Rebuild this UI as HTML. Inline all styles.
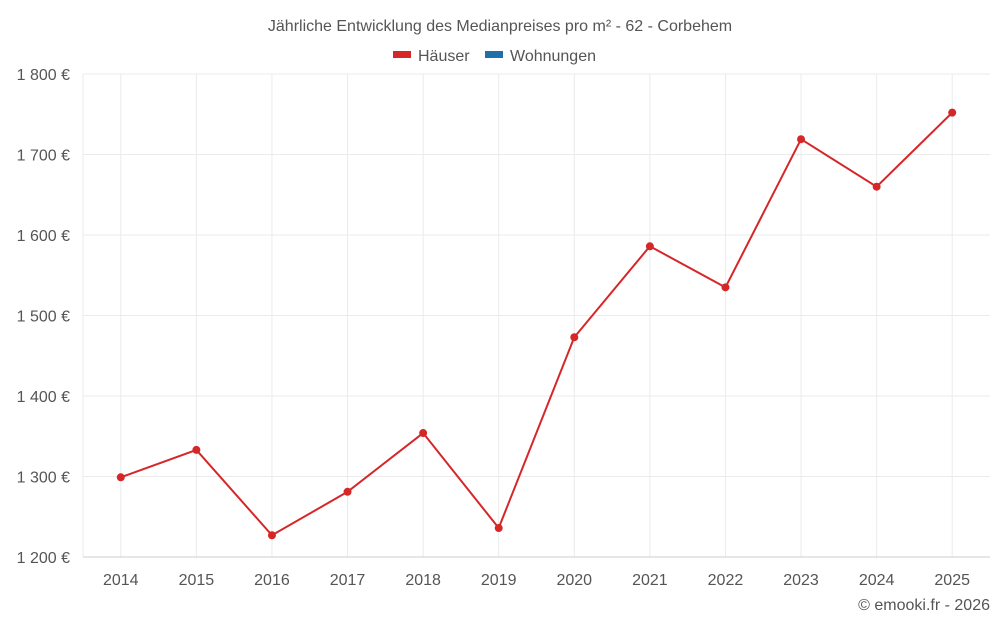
<!DOCTYPE html>
<html><head><meta charset="utf-8"><style>
body{margin:0;background:#fff;font-family:"Liberation Sans",sans-serif;}
svg text{font-family:"Liberation Sans",sans-serif;}
</style></head><body>
<svg id="chart" width="1000" height="625">
<text x="500" y="31" text-anchor="middle" font-size="16" fill="#555">Jährliche Entwicklung des Medianpreises pro m² - 62 - Corbehem</text>
<g>
<g><rect x="393" y="51" width="18" height="7" fill="#d62728"/><text x="418" y="61" font-size="16" fill="#555">Häuser</text></g>
<g><rect x="485" y="51" width="18" height="7" fill="#1f6fa8"/><text x="510" y="61" font-size="16" fill="#555">Wohnungen</text></g>
</g>
<g id="grid"></g><g id="axes"></g><g id="marks"></g>
<text x="990" y="610" text-anchor="end" font-size="16" fill="#555">© emooki.fr - 2026</text>
</svg>
<script>
const years=["2014","2015","2016","2017","2018","2019","2020","2021","2022","2023","2024","2025"];
const houses=[1299,1333,1227,1281,1354,1236,1473,1586,1535,1719,1660,1752];
const yTicks=[1200,1300,1400,1500,1600,1700,1800];
const NS="http://www.w3.org/2000/svg";
const L=83,R=990,T=74,B=557,ymin=1200,ymax=1800;
const bw=(R-L)/years.length;
const x=i=>L+bw*(i+0.5);
const y=v=>B-(v-ymin)/(ymax-ymin)*(B-T);
function mk(tag,a,p){const e=document.createElementNS(NS,tag);for(const k in a)e.setAttribute(k,a[k]);p.appendChild(e);return e;}
const g=document.getElementById('grid'),ax=document.getElementById('axes'),m=document.getElementById('marks');
const lv=mk('line',{x1:L,x2:L,y1:T,y2:B,stroke:'#ebebeb'},g);


years.forEach((yr,i)=>{
 const l=mk('line',{x1:x(i),x2:x(i),y1:T,y2:B,stroke:'#ebebeb'},g);
 
 
 const t=mk('text',{x:x(i),y:585,'text-anchor':'middle','font-size':16,fill:'#555'},ax);
 t.textContent=yr;
 
 
});
yTicks.forEach(v=>{
 const l=mk('line',{x1:L,x2:R,y1:y(v),y2:y(v),stroke:v===ymin?'#ccc':'#ebebeb'},g);
 
 
 const t=mk('text',{x:70,y:y(v)+6,'text-anchor':'end','font-size':16,fill:'#555'},ax);
 t.textContent=String(v).replace(/(\d)(\d{3})$/,'$1 $2')+' €';
 
 
});
const line=mk('polyline',{points:houses.map((v,i)=>x(i)+','+y(v)).join(' '),fill:'none',stroke:'#d62728','stroke-width':2},m);


houses.forEach((v,i)=>{
 const c=mk('circle',{cx:x(i),cy:y(v),r:4,fill:'#d62728'},m);
 
 
});
</script>
</body></html>
